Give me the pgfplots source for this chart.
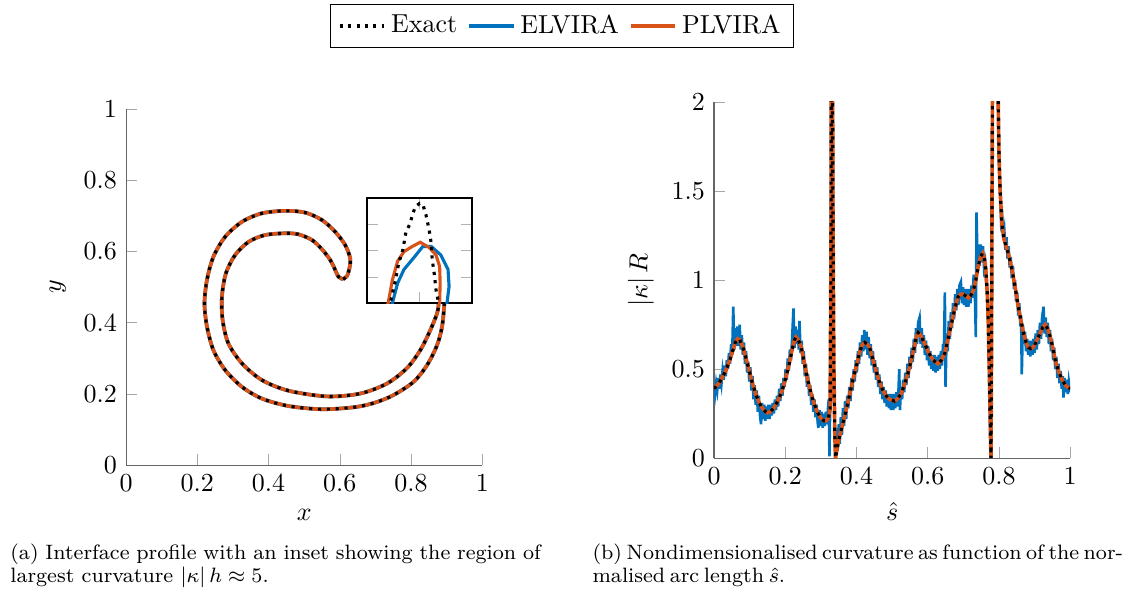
\documentclass[border=0pt]{standalone}
\usepackage{pgfplots}
\pgfplotsset{compat=1.18}
\usepackage{pgfplotstable}

\definecolor{elvira}{rgb}{0,0.447,0.741}
\definecolor{plvira}{rgb}{0.85,0.325,0.098}

% interface profile (closed curve)
\pgfplotstableread{
x y
0.609 0.522
0.620 0.531
0.627 0.553
0.629 0.581
0.615 0.618
0.587 0.655
0.550 0.688
0.503 0.709
0.447 0.714
0.381 0.707
0.325 0.683
0.278 0.641
0.245 0.585
0.227 0.520
0.220 0.454
0.227 0.389
0.245 0.323
0.278 0.267
0.325 0.220
0.381 0.187
0.456 0.166
0.550 0.157
0.643 0.163
0.700 0.176
0.751 0.197
0.807 0.234
0.845 0.281
0.873 0.337
0.887 0.389
0.893 0.449
0.894 0.480
0.886 0.505
0.879 0.480
0.877 0.449
0.873 0.426
0.854 0.379
0.826 0.323
0.788 0.272
0.732 0.229
0.657 0.201
0.564 0.193
0.456 0.209
0.381 0.239
0.325 0.286
0.287 0.342
0.271 0.407
0.269 0.473
0.280 0.538
0.306 0.590
0.344 0.627
0.390 0.646
0.447 0.651
0.484 0.648
0.522 0.632
0.550 0.606
0.573 0.576
0.587 0.548
0.596 0.529
0.609 0.522
}\profile

% inset (relative units)
\pgfplotstableread{
x y
0.20 -0.05
0.22 0.00
0.27 0.22
0.30 0.38
0.34 0.51
0.37 0.68
0.41 0.76
0.43 0.84
0.46 0.92
0.50 0.95
0.53 0.94
0.56 0.84
0.59 0.70
0.61 0.57
0.62 0.41
0.64 0.27
0.655 0.13
0.69 -0.05
}\insetexact
\pgfplotstableread{
x y
0.18 -0.05
0.20 0.00
0.24 0.22
0.29 0.40
0.35 0.49
0.43 0.54
0.505 0.58
0.59 0.53
0.655 0.46
0.69 0.35
0.695 0.19
0.69 0.00
0.685 -0.05
}\insetplvira
\pgfplotstableread{
x y
0.22 -0.05
0.24 0.00
0.29 0.19
0.35 0.32
0.45 0.44
0.53 0.54
0.61 0.54
0.70 0.46
0.77 0.32
0.78 0.16
0.76 0.00
0.755 -0.05
}\insetelvira

% curvature, panel (b)
\pgfplotstableread{
s k
0.000 0.390
0.014 0.420
0.033 0.490
0.045 0.555
0.052 0.600
0.060 0.650
0.066 0.670
0.072 0.665
0.080 0.630
0.090 0.560
0.099 0.490
0.108 0.420
0.117 0.360
0.127 0.310
0.136 0.280
0.145 0.260
0.150 0.255
0.158 0.260
0.169 0.285
0.180 0.325
0.192 0.385
0.202 0.455
0.211 0.530
0.220 0.615
0.226 0.665
0.230 0.680
0.236 0.665
0.244 0.630
0.253 0.540
0.263 0.440
0.272 0.365
0.282 0.300
0.291 0.255
0.300 0.225
0.308 0.210
0.315 0.210
0.321 0.225
0.326 0.275
0.3285 1.200
0.3300 3.000
0.3320 3.000
0.3335 1.500
0.3365 0.500
0.3390 0.150
0.3410 0.000
0.3460 0.060
0.3520 0.120
0.3610 0.190
0.3710 0.270
0.3800 0.350
0.3900 0.440
0.4000 0.520
0.4080 0.590
0.4160 0.635
0.4230 0.650
0.4300 0.640
0.4370 0.620
0.4460 0.555
0.4550 0.490
0.4640 0.430
0.4740 0.380
0.4830 0.350
0.4930 0.330
0.5070 0.320
0.5160 0.335
0.5260 0.365
0.5350 0.415
0.5450 0.480
0.5540 0.555
0.5630 0.630
0.5680 0.680
0.5730 0.705
0.5800 0.690
0.5920 0.640
0.6030 0.590
0.6150 0.550
0.6290 0.530
0.6380 0.550
0.6480 0.590
0.6570 0.670
0.6670 0.760
0.6760 0.840
0.6850 0.905
0.6920 0.920
0.7000 0.920
0.7070 0.910
0.7140 0.900
0.7210 0.915
0.7280 0.940
0.7350 1.000
0.7420 1.080
0.7480 1.130
0.7540 1.150
0.7590 1.120
0.7630 1.060
0.7670 0.930
0.7700 0.760
0.7730 0.480
0.7755 0.200
0.7775 0.000
0.7790 0.600
0.7805 1.500
0.7820 2.200
0.7900 3.500
0.7970 2.100
0.8000 1.700
0.8030 1.510
0.8080 1.320
0.8140 1.230
0.8200 1.190
0.8260 1.150
0.8330 1.090
0.8400 1.020
0.8470 0.940
0.8540 0.850
0.8620 0.770
0.8690 0.700
0.8760 0.650
0.8830 0.620
0.8900 0.615
0.8970 0.625
0.9060 0.660
0.9150 0.700
0.9230 0.735
0.9300 0.750
0.9370 0.725
0.9440 0.680
0.9510 0.620
0.9580 0.550
0.9670 0.490
0.9770 0.440
0.9880 0.405
1.0000 0.390
}\kexact

\pgfplotstableread{
s k
0.000 0.41
0.003 0.36
0.006 0.42
0.009 0.38
0.012 0.45
0.015 0.39
0.018 0.47
0.021 0.42
0.024 0.49
0.027 0.44
0.030 0.52
0.033 0.46
0.036 0.55
0.039 0.50
0.042 0.59
0.045 0.53
0.048 0.64
0.051 0.58
0.054 0.85
0.057 0.61
0.060 0.73
0.063 0.63
0.066 0.74
0.069 0.63
0.072 0.75
0.075 0.61
0.078 0.69
0.081 0.58
0.084 0.65
0.087 0.53
0.090 0.60
0.093 0.48
0.096 0.54
0.099 0.43
0.102 0.51
0.105 0.38
0.108 0.46
0.111 0.33
0.114 0.41
0.117 0.30
0.120 0.38
0.123 0.26
0.126 0.35
0.129 0.24
0.132 0.19
0.135 0.31
0.138 0.22
0.141 0.30
0.144 0.21
0.147 0.29
0.150 0.22
0.153 0.30
0.156 0.22
0.159 0.30
0.162 0.24
0.165 0.31
0.168 0.25
0.171 0.33
0.174 0.27
0.177 0.35
0.180 0.29
0.183 0.39
0.186 0.32
0.189 0.42
0.192 0.35
0.195 0.45
0.198 0.40
0.201 0.50
0.204 0.44
0.207 0.56
0.210 0.49
0.213 0.61
0.216 0.55
0.219 0.66
0.223 0.84
0.226 0.62
0.229 0.74
0.232 0.64
0.235 0.72
0.238 0.61
0.240 0.77
0.243 0.59
0.246 0.66
0.249 0.53
0.252 0.60
0.255 0.46
0.258 0.53
0.261 0.40
0.264 0.47
0.267 0.35
0.270 0.41
0.273 0.30
0.276 0.36
0.279 0.26
0.282 0.33
0.285 0.23
0.288 0.30
0.291 0.20
0.293 0.17
0.296 0.27
0.299 0.18
0.302 0.26
0.305 0.17
0.308 0.25
0.311 0.18
0.314 0.26
0.317 0.19
0.320 0.28
0.322 0.33
0.324 0.01
0.326 0.28
0.3295 2.50
0.3310 6.00
0.3325 2.50
0.3360 0.50
0.3390 0.15
0.341 0.02
0.344 0.16
0.347 0.04
0.350 0.19
0.353 0.08
0.356 0.23
0.359 0.13
0.362 0.28
0.365 0.18
0.368 0.32
0.371 0.22
0.374 0.35
0.377 0.28
0.380 0.40
0.383 0.32
0.386 0.45
0.389 0.38
0.392 0.50
0.395 0.43
0.398 0.55
0.401 0.48
0.404 0.60
0.407 0.53
0.410 0.65
0.413 0.57
0.416 0.69
0.419 0.60
0.422 0.72
0.425 0.61
0.428 0.71
0.431 0.58
0.434 0.68
0.437 0.56
0.440 0.64
0.443 0.52
0.446 0.60
0.449 0.48
0.452 0.55
0.455 0.44
0.458 0.51
0.461 0.40
0.464 0.47
0.467 0.36
0.470 0.43
0.473 0.33
0.476 0.40
0.479 0.31
0.482 0.38
0.485 0.29
0.488 0.36
0.491 0.28
0.494 0.36
0.497 0.27
0.500 0.36
0.503 0.27
0.506 0.36
0.509 0.28
0.512 0.37
0.515 0.29
0.518 0.39
0.520 0.50
0.522 0.27
0.525 0.40
0.528 0.33
0.531 0.44
0.534 0.37
0.537 0.48
0.540 0.41
0.543 0.53
0.546 0.45
0.549 0.57
0.552 0.50
0.555 0.62
0.558 0.54
0.561 0.67
0.564 0.59
0.567 0.73
0.570 0.64
0.573 0.76
0.577 0.79
0.580 0.64
0.583 0.73
0.586 0.62
0.589 0.69
0.592 0.58
0.595 0.66
0.598 0.55
0.601 0.63
0.604 0.52
0.607 0.60
0.610 0.50
0.613 0.58
0.616 0.49
0.619 0.58
0.622 0.48
0.625 0.57
0.628 0.49
0.631 0.58
0.634 0.50
0.637 0.60
0.640 0.52
0.643 0.64
0.645 0.56
0.648 0.93
0.650 0.40
0.653 0.70
0.656 0.60
0.659 0.77
0.662 0.67
0.665 0.82
0.668 0.73
0.671 0.87
0.674 0.78
0.677 0.92
0.680 0.83
0.683 0.95
0.686 0.86
0.689 0.97
0.693 0.99
0.696 0.87
0.699 0.96
0.702 0.86
0.705 0.95
0.708 0.85
0.711 0.95
0.714 0.85
0.717 0.95
0.720 0.87
0.723 0.97
0.726 0.90
0.729 1.03
0.732 0.95
0.735 0.68
0.737 1.38
0.740 1.06
0.743 1.20
0.746 1.08
0.749 1.20
0.752 1.10
0.755 1.19
0.758 1.07
0.761 1.10
0.764 0.99
0.767 0.93
0.770 0.76
0.7735 0.38
0.776 0.05
0.7775 0.00
0.7790 0.60
0.7805 1.50
0.7820 2.20
0.7900 3.50
0.7970 2.10
0.8000 1.70
0.803 1.53
0.806 1.33
0.809 1.36
0.812 1.24
0.815 1.28
0.818 1.17
0.821 1.24
0.824 1.12
0.827 1.19
0.830 1.07
0.833 1.13
0.836 1.01
0.839 1.08
0.842 0.95
0.845 1.00
0.848 0.88
0.851 0.93
0.854 0.80
0.857 0.87
0.860 0.74
0.862 0.80
0.864 0.47
0.867 0.75
0.870 0.64
0.873 0.71
0.876 0.60
0.879 0.67
0.882 0.58
0.885 0.66
0.888 0.57
0.891 0.66
0.894 0.58
0.897 0.67
0.900 0.59
0.903 0.70
0.906 0.61
0.909 0.72
0.912 0.64
0.915 0.76
0.918 0.67
0.921 0.79
0.925 0.85
0.928 0.70
0.931 0.79
0.934 0.68
0.937 0.76
0.940 0.64
0.943 0.72
0.946 0.60
0.949 0.67
0.952 0.55
0.955 0.62
0.958 0.50
0.961 0.57
0.964 0.45
0.967 0.53
0.970 0.42
0.973 0.49
0.976 0.39
0.979 0.46
0.981 0.34
0.984 0.45
0.987 0.37
0.990 0.44
0.993 0.36
0.996 0.43
1.000 0.37
}\kelvira

\pgfplotsset{
  panel/.style={
    scale only axis,
    width=137pt, height=137pt,
    anchor=south west,
    axis x line*=bottom, axis y line*=left,
    axis line style={black!60},
    tick align=inside,
    major tick style={black!35},
    xmin=0, xmax=1,
    xtick={0,0.2,0.4,0.6,0.8,1},
  },
  exactline/.style={black, dotted, line width=1.2pt},
}

\begin{document}
\begin{tikzpicture}
\useasboundingbox (0,0) rectangle (434.2pt,-226.5pt);

% panel (a)
\begin{axis}[panel,
  at={(48.5pt,-178.9pt)},
  ymin=0, ymax=1,
  ytick={0,0.2,0.4,0.6,0.8,1},
  xlabel={$x$}, ylabel={$y$},
  legend columns=-1,
  legend style={at={(1.224,1.233)}, anchor=center, draw=black,
    /tikz/every even column/.append style={column sep=2pt}},
]
\addlegendimage{exactline}
\addlegendentry{Exact}
\addlegendimage{elvira, line width=1.2pt}
\addlegendentry{ELVIRA}
\addlegendimage{plvira, line width=1.2pt}
\addlegendentry{PLVIRA}
\addplot[elvira, line width=1.4pt, smooth, tension=0.5, forget plot] table {\profile};
\addplot[plvira, line width=1.4pt, smooth, tension=0.5, forget plot] table {\profile};
\addplot[black, line width=1.2pt, dash pattern=on 1.2pt off 2.2pt, smooth, tension=0.5, forget plot] table {\profile};
\end{axis}

% inset of panel (a)
\begin{axis}[
  at={(141.2pt,-116.6pt)}, anchor=south west,
  scale only axis, width=40.4pt, height=40.4pt,
  xmin=0, xmax=1, ymin=0, ymax=1,
  xtick={0.5}, ytick={0.25,0.5,0.75},
  xticklabels={}, yticklabels={},
  tick align=inside, major tick style={black!30},
  axis line style={black, line width=0.8pt},
  axis background/.style={fill=white},
]
\addplot[elvira, line width=1.2pt] table {\insetelvira};
\addplot[plvira, line width=1.2pt] table {\insetplvira};
\addplot[exactline] table {\insetexact};
\end{axis}

% panel (b)
\begin{axis}[panel,
  at={(274.6pt,-176.2pt)},
  ymin=0, ymax=2,
  ytick={0,0.5,1,1.5,2},
  xlabel={$\hat{s}$}, ylabel={$\left|\kappa\right| R$},
]
\addplot[elvira, line width=1pt] table {\kelvira};
\addplot[plvira, line width=1.4pt] table {\kexact};
\addplot[exactline] table {\kexact};
\end{axis}

% captions
\node[anchor=north west, inner sep=0pt, text width=204pt, align=justify,
  font=\fontsize{8}{9}\selectfont]
  at (3.8pt,-209pt)
  {(a) Interface profile with an inset showing the region of\linebreak largest curvature $\left|\kappa\right| h \approx 5$.};
\node[anchor=north west, inner sep=0pt, text width=204pt, align=justify,
  font=\fontsize{8}{9}\selectfont]
  at (227.7pt,-209pt)
  {\spaceskip=1.8pt plus 1.5pt minus 0.2pt\hyphenpenalty=10000
   (b) Nondimensionalised curvature as function of the nor-\linebreak malised arc length $\hat{s}$.};
\end{tikzpicture}
\end{document}
